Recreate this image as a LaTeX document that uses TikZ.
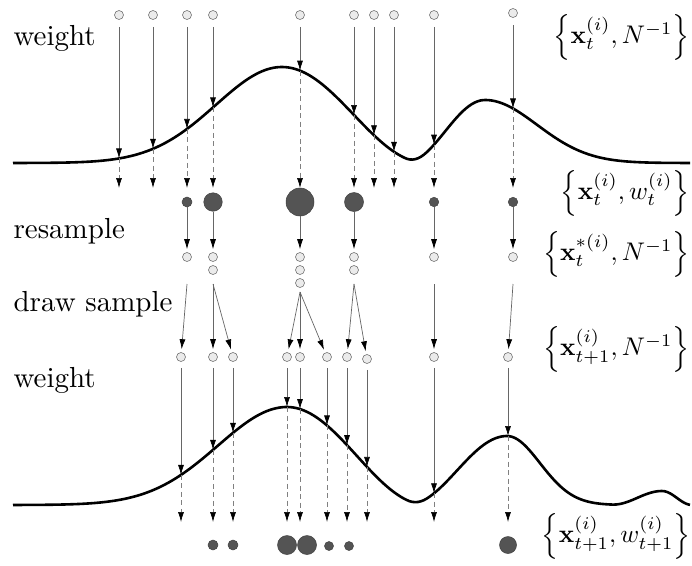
\documentclass[tikz,border=0pt]{standalone}
\usetikzlibrary{arrows.meta}
\begin{document}
\begin{tikzpicture}[x=1pt,y=-1pt,
  declare function={
    fa(\x)=163-((\x<282)*96*exp(-min(((\x-282)/66)^2/2,9))
             +(\x>=282)*48*(1+cos(min(abs(\x-282),144)/144*180))
             +(\x<485)*31.5*(1+cos(min(abs(\x-485),80)/80*180))
             +(\x>=485)*63*exp(-min(((\x-485)/52)^2/2,9)));
    fb(\x)=505-((\x<287)*98*exp(-min(((\x-287)/69)^2/2,9))
             +(\x>=287)*49*(1+cos(min(abs(\x-287),140)/140*180))
             +(\x<507)*34.5*(1+cos(min(abs(\x-507),100)/100*180))
             +(\x>=507)*69*exp(-min(((\x-507)/33)^2/2,9))
             +(\x<662)*7*(1+cos(min(abs(\x-662),50)/50*180))
             +(\x>=662)*7*(1+cos(min(abs(\x-662),30)/30*180)));
  },
  part/.style={circle, draw=black!55, fill=black!8, line width=0.6pt, minimum size=9pt, inner sep=0pt},
  wpart/.style={circle, fill=black!67, draw=black!75, line width=0.5pt, inner sep=0pt, minimum size=#1},
  solidarr/.style={draw=black!60, line width=0.7pt, -{Latex[length=10pt,width=6pt,color=black]}},
  dasharr/.style={draw=black!50, line width=0.7pt, dash pattern=on 5pt off 3.5pt, -{Latex[length=10pt,width=6pt,color=black]}},
  curve/.style={line width=2.6pt, black},
  lab/.style={scale=2.9, transform shape, anchor=base west, inner sep=0pt},
  mlab/.style={scale=2.55, transform shape, anchor=east, inner sep=0pt}]
\useasboundingbox (0,0) rectangle (692,565);

% ---------- first weighting curve ----------
\draw[curve] plot[domain=13:690, samples=240, smooth] (\x,{fa(\x)});

% top particles and weighting arrows
\foreach \i/\x/\py in {1/119/15, 2/153/15, 3/187/15, 4/213/15, 5/300/15,
  6/354/15, 7/374/15, 8/394/15, 9/434/15, 10/513/13} {
  \node[part] (p\i) at (\x,\py) {};
  \coordinate (c\i) at (\x,{fa(\x)});
  \coordinate (d\i) at (\x,188);
  \draw[solidarr, shorten <=7pt] (p\i) -- (c\i);
  \draw[dasharr] (c\i) -- (d\i);
}

% weighted particles
\node[wpart=10pt] (w3) at (187,202) {};
\node[wpart=18.5pt] (w4) at (213,202) {};
\node[wpart=28pt] (w5) at (300,202) {};
\node[wpart=19pt] (w6) at (354,202) {};
\node[wpart=9.5pt] (w9) at (434,202) {};
\node[wpart=9.5pt] (w10) at (513,202) {};

% resampled particles
\node[part] (r3a) at (187,257) {};
\node[part] (r4a) at (213,257) {};
\node[part] (r4b) at (213,270) {};
\node[part] (r5a) at (300,257) {};
\node[part] (r5b) at (300,270) {};
\node[part] (r5c) at (300,283) {};
\node[part] (r6a) at (354,257) {};
\node[part] (r6b) at (354,270) {};
\node[part] (r9a) at (434,257) {};
\node[part] (r10a) at (513,257) {};

\foreach \a/\b in {w3/r3a, w4/r4a, w5/r5a, w6/r6a, w9/r9a, w10/r10a}
  \draw[solidarr, shorten >=3pt] (\a) -- (\b);

% new particles (draw sample)
\node[part] (n1) at (181,357) {};
\node[part] (n2) at (213,357) {};
\node[part] (n3) at (233,357) {};
\node[part] (n4) at (287,357) {};
\node[part] (n5) at (300,357) {};
\node[part] (n6) at (327,357) {};
\node[part] (n7) at (347,357) {};
\node[part] (n8) at (367,359) {};
\node[part] (n9) at (434,357) {};
\node[part] (n10) at (508,357) {};

\coordinate (s3) at (187,284);
\coordinate (s4) at (213,284);
\coordinate (s5) at (300,292);
\coordinate (s6) at (354,284);
\coordinate (s9) at (434,284);
\coordinate (s10) at (513,284);

\foreach \a/\b in {s3/n1, s4/n2, s4/n3, s5/n4, s5/n5, s5/n6, s6/n7, s6/n8, s9/n9, s10/n10}
  \draw[solidarr, shorten >=3pt] (\a) -- (\b);

% ---------- second weighting curve ----------
\draw[curve] plot[domain=13:690, samples=240, smooth] (\x,{fb(\x)});

\foreach \i/\x in {1/181, 2/213, 3/233, 4/287, 5/300, 6/327, 7/347, 8/367, 9/434, 10/508} {
  \coordinate (e\i) at (\x,{fb(\x)});
  \coordinate (f\i) at (\x,522);
  \draw[solidarr, shorten <=6pt] (n\i) -- (e\i);
  \draw[dasharr] (e\i) -- (f\i);
}

% final weighted particles
\node[wpart=10pt] (b2) at (213,545) {};
\node[wpart=10pt] (b3) at (233,545) {};
\node[wpart=19pt] (b4) at (287,545) {};
\node[wpart=19pt] (b5) at (307,545) {};
\node[wpart=9pt] (b6) at (329,546) {};
\node[wpart=9pt] (b7) at (349,546) {};
\node[wpart=17pt] (b10) at (508,545) {};

% ---------- labels ----------
\node[lab] (l1) at (13,45) {weight};
\node[lab] (l2) at (13,238) {resample};
\node[lab] (l3) at (13,311) {draw sample};
\node[lab] (l4) at (13,387) {weight};

\node[mlab] (m1) at (690,37) {$\left\{\mathbf{x}_t^{(i)}, N^{-1}\right\}$};
\node[mlab] (m2) at (690,193) {$\left\{\mathbf{x}_t^{(i)}, w_t^{(i)}\right\}$};
\node[mlab] (m3) at (690,254) {$\left\{\mathbf{x}_t^{*(i)}, N^{-1}\right\}$};
\node[mlab] (m4) at (690,349) {$\left\{\mathbf{x}_{t+1}^{(i)}, N^{-1}\right\}$};
\node[mlab] (m5) at (691,536) {$\left\{\mathbf{x}_{t+1}^{(i)}, w_{t+1}^{(i)}\right\}$};
\end{tikzpicture}
\end{document}
